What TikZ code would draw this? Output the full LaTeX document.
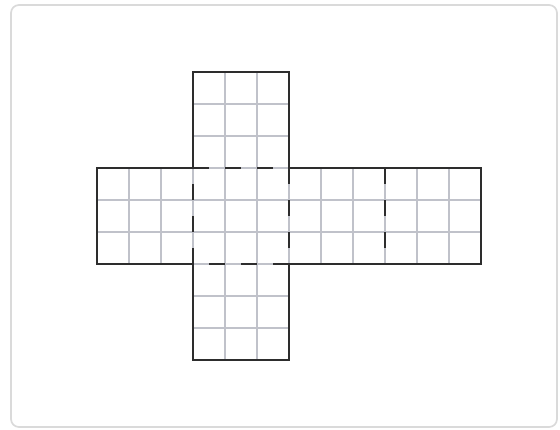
\documentclass[tikz,border=0pt]{standalone}
\usepackage{tikz}
\usetikzlibrary{positioning}

\definecolor{gridgray}{RGB}{192,194,202}
\definecolor{edgedark}{RGB}{45,45,45}
\definecolor{framegray}{RGB}{218,218,218}

\begin{document}
\begin{tikzpicture}[
x = 0.8cm, y = 0.8cm,% one unit = one small square
   gridline/.style = {draw=gridgray, line width=2pt, step=0.8cm},
    outline/.style = {draw=edgedark, line width=1.3pt, line join=miter},
    foldline/.style = {draw=edgedark, line width=1.3pt, dash pattern=on 0.4cm off 0.4cm},
   frame/.style = {draw=framegray, line width=1.2pt, rounded corners=0.2cm}
                        ]
\useasboundingbox (-3.03125,-2.15625) rectangle (14.46875,11.25);
\draw [frame] (-2.6875,-2.094) rectangle (14.375,11.094);
% light grid of the net
\draw [gridline] (3,0) grid (6,9);
\draw [gridline] (0,3) grid (12,6);
% outline of the cross
\draw [outline] (3,0) -- (6,0) -- (6,3) -- (12,3) -- (12,6) -- (6,6)
                -- (6,9) -- (3,9) -- (3,6) -- (0,6) -- (0,3) -- (3,3) -- cycle;
% fold edges
\draw [foldline] (3,6) -- (6,6);
\draw [foldline] (6,3) -- (3,3);
\draw [foldline] (3,3) -- (3,6);
\draw [foldline] (6,6) -- (6,3);
\draw [foldline] (9,6) -- (9,3);
\end{tikzpicture}
\end{document}
